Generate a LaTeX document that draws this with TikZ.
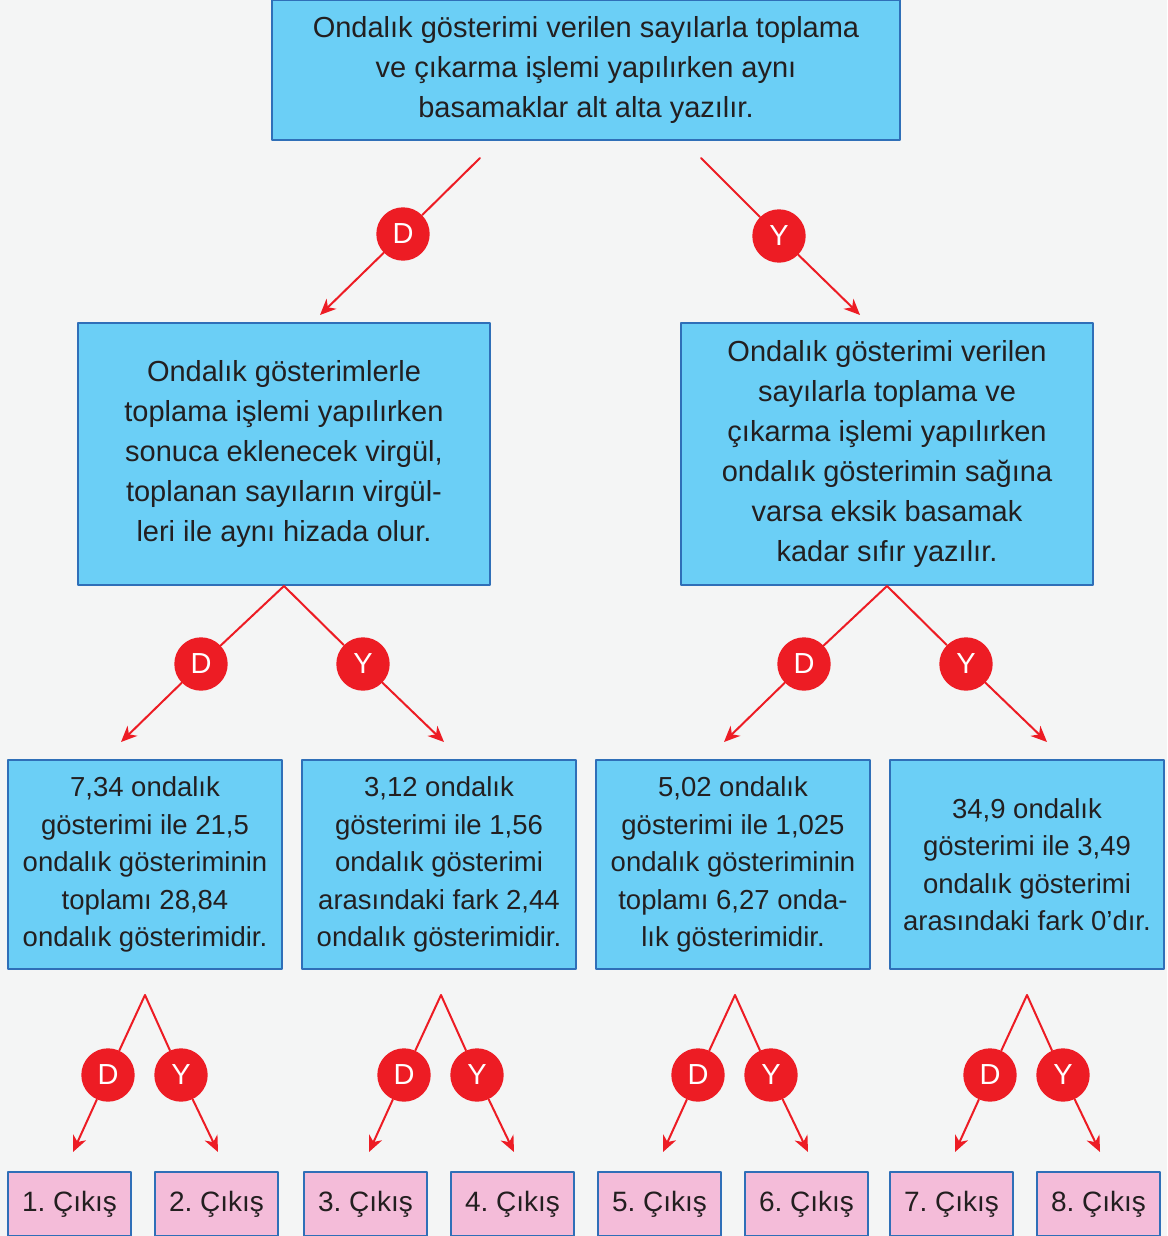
\documentclass[tikz,border=0pt]{standalone}
\usepackage{fontspec}
\setmainfont{Liberation Sans}
\frenchspacing
\usetikzlibrary{arrows.meta}
\definecolor{bgGrey}{HTML}{F4F5F5}
\definecolor{boxBlue}{HTML}{6BCFF6}
\definecolor{boxEdge}{HTML}{2F6FB8}
\definecolor{outPink}{HTML}{F4BCD9}
\definecolor{dyRed}{HTML}{ED1C24}
\definecolor{txtDark}{HTML}{231F20}
\tikzset{
  flowchart/.style={
    x=0.5pt, y=-0.5pt,
    line cap=round, line join=round,
  },
  infoBox/.style={
    draw=boxEdge, line width=0.6pt, fill=boxBlue,
    align=center, text=txtDark, inner sep=0pt,
    font=\fontsize{14.5}{20}\selectfont,
  },
  caseBox/.style={infoBox, minimum width=137pt, minimum height=104.5pt,
    font=\fontsize{13.75}{18.75}\selectfont},
  outBox/.style={infoBox, fill=outPink, minimum width=61.5pt, minimum height=32pt,
    font=\fontsize{14}{16}\selectfont},
  dyBall/.style={
    circle, fill=dyRed, text=white, inner sep=0pt, minimum size=26.7pt,
    font=\fontsize{14.5}{14.5}\selectfont,
  },
  branch/.style={dyRed, line width=1pt},
  branchTip/.style={branch, -{Stealth[length=8pt, width=7pt, inset=2.5pt]}},
}
\begin{document}
\begin{tikzpicture}[flowchart]

% background and page size
\fill[bgGrey] (0,0) rectangle (1167,1236);
\useasboundingbox (0,0) rectangle (1167,1236);

% top statement
\node[infoBox, minimum width=314pt, minimum height=70pt] (top) at (586,70)
  {Ondalık gösterimi verilen sayılarla toplama\\
   ve çıkarma işlemi yapılırken aynı\\
   basamaklar alt alta yazılır.};

% second level
\node[infoBox, minimum width=206pt, minimum height=131pt] (midL) at (284,454)
  {Ondalık gösterimlerle\\
   toplama işlemi yapılırken\\
   sonuca eklenecek virgül,\\
   toplanan sayıların virgül-\\
   leri ile aynı hizada olur.};
\node[infoBox, minimum width=206pt, minimum height=131pt] (midR) at (887,454)
  {Ondalık gösterimi verilen\\
   sayılarla toplama ve\\
   çıkarma işlemi yapılırken\\
   ondalık gösterimin sağına\\
   varsa eksik basamak\\
   kadar sıfır yazılır.};

% third level
\node[caseBox] (case1) at (145,864.5)
  {7,34 ondalık\\ gösterimi ile 21,5\\ ondalık gösteriminin\\
   toplamı 28,84\\ ondalık gösterimidir.};
\node[caseBox] (case2) at (439,864.5)
  {3,12 ondalık\\ gösterimi ile 1,56\\ ondalık gösterimi\\
   arasındaki fark 2,44\\ ondalık gösterimidir.};
\node[caseBox] (case3) at (733,864.5)
  {5,02 ondalık\\ gösterimi ile 1,025\\ ondalık gösteriminin\\
   toplamı 6,27 onda-\\ lık gösterimidir.};
\node[caseBox] (case4) at (1027,864.5)
  {34,9 ondalık\\ gösterimi ile 3,49\\ ondalık gösterimi\\
   arasındaki fark 0’dır.};

% top branches
\coordinate (topD) at (480,158);
\coordinate (topY) at (701,158);
\coordinate (midLin) at (320,315);
\coordinate (midRin) at (860,315);
\node[dyBall] (d0) at (403,234) {D};
\node[dyBall] (y0) at (779,236) {Y};
\draw[branch] (topD) -- (d0);
\draw[branchTip] (d0) -- (midLin);
\draw[branch] (topY) -- (y0);
\draw[branchTip] (y0) -- (midRin);

% second level branches
\foreach \m/\cx/\a/\b in {L/284/1/2, R/887/3/4} {
  \coordinate (apex\m) at (\cx,586);
  \coordinate (caseIn\a) at (\cx-163,742);
  \coordinate (caseIn\b) at (\cx+160,742);
  \node[dyBall] (dm\m) at (\cx-83,664) {D};
  \node[dyBall] (ym\m) at (\cx+79,664) {Y};
  \draw[branch] (apex\m) -- (dm\m);
  \draw[branchTip] (dm\m) -- (caseIn\a);
  \draw[branch] (apex\m) -- (ym\m);
  \draw[branchTip] (ym\m) -- (caseIn\b);
}

% third level branches and outputs
\foreach \i/\cx/\a/\b in {1/145/1/2, 2/441/3/4, 3/735/5/6, 4/1027/7/8} {
  \coordinate (apex\i) at (\cx,995);
  \coordinate (outIn\a) at (\cx-72,1152);
  \coordinate (outIn\b) at (\cx+73,1152);
  \node[dyBall] (d\i) at (\cx-37,1075) {D};
  \node[dyBall] (y\i) at (\cx+36,1075) {Y};
  \draw[branch] (apex\i) -- (d\i);
  \draw[branchTip] (d\i) -- (outIn\a);
  \draw[branch] (apex\i) -- (y\i);
  \draw[branchTip] (y\i) -- (outIn\b);
  \node[outBox] (out\a) at (\cx-75.5,1204) {\a. Çıkış};
  \node[outBox] (out\b) at (\cx+71.5,1204) {\b. Çıkış};
}

\end{tikzpicture}
\end{document}
